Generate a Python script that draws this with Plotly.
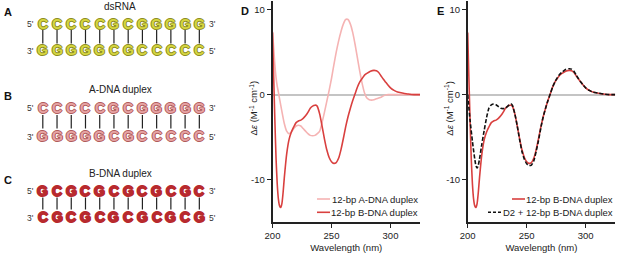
import plotly.graph_objects as go

W, H = 617, 253

# ---------------- data ----------------
seq_A_top = list("CCCCCGCGGGGG")
seq_A_bot = list("GGGGGCGCCCCC")
seq_B_top = list("CCCCCGCGGGGG")
seq_B_bot = list("GGGGGCGCCCCC")
seq_C_top = list("GCGCGCGCGCGC")
seq_C_bot = list("CGCGCGCGCGCG")

wl_b = [200, 201, 202, 203, 204, 205, 206, 207, 208, 209, 210, 212, 214, 216, 218, 220, 222, 224, 226, 228,
        230, 232, 234, 236, 237, 238, 240, 242, 244, 246, 248, 250, 252, 254, 256, 258, 260, 262, 264, 266,
        268, 270, 272, 274, 276, 278, 280, 283, 286, 288, 290, 292, 294, 296, 298, 300, 303, 306, 310, 315,
        320, 325]
bdna = [7.3, 2.0, -3.0, -7.5, -10.5, -12.3, -13.1, -13.3, -12.8, -11.5, -9.8, -7.0, -5.3, -4.4, -3.8, -3.3,
        -3.1, -3.0, -2.8, -2.5, -2.1, -1.6, -1.35, -1.25, -1.25, -1.4, -2.3, -3.7, -5.2, -6.5, -7.4, -7.9,
        -8.1, -8.0, -7.5, -6.5, -5.2, -3.8, -2.6, -1.6, -0.7, 0.1, 0.9, 1.5, 1.9, 2.3, 2.5, 2.75, 2.85, 2.8,
        2.6, 2.2, 1.8, 1.45, 1.1, 0.8, 0.5, 0.3, 0.2, 0.08, 0.0, 0.0]

wl_a = [200, 201, 202, 203, 204, 205, 206, 208, 210, 212, 214, 216, 218, 220, 222, 224, 226, 228, 230, 232,
        234, 236, 238, 240, 242, 244, 246, 248, 250, 252, 254, 256, 258, 260, 262, 264, 266, 268, 270, 272,
        274, 276, 278, 280, 282, 284, 286, 288, 290, 292, 294, 296, 298, 300, 310, 325]
adna = [7.4, 5.5, 3.5, 2.0, 1.0, 0.3, -0.5, -2.0, -3.4, -4.3, -4.6, -4.4, -4.0, -3.7, -3.6, -3.7, -4.0, -4.3,
        -4.6, -4.8, -4.85, -4.8, -4.6, -4.3, -3.3, -2.1, -0.8, 0.5, 1.9, 3.5, 5.0, 6.3, 7.4, 8.3, 8.85, 8.85,
        8.3, 7.3, 5.9, 4.3, 2.7, 1.3, 0.2, -0.4, -0.6, -0.65, -0.6, -0.5, -0.4, -0.3, -0.15, -0.05, 0.0, 0.0,
        0.0, 0.0]

wl_d2 = [200, 202, 204, 206, 207, 208, 209, 210, 212, 214, 216, 218, 220, 222, 224, 226, 228, 230, 232, 234,
         236, 237, 238, 240, 242, 244, 246, 248, 250, 252, 254, 256, 258, 260, 262, 264, 266, 268, 270, 272,
         274, 276, 278, 280, 283, 286, 288, 290, 292, 294, 296, 298, 300, 303, 306, 310, 315, 320, 325]
d2 = [0.0, -3.0, -5.5, -7.6, -8.4, -8.65, -8.3, -7.6, -5.8, -4.2, -2.7, -1.6, -1.2, -1.1, -1.2, -1.4, -1.6,
      -1.65, -1.6, -1.35, -1.15, -1.1, -1.3, -2.3, -3.7, -5.3, -6.7, -7.6, -8.15, -8.35, -8.3, -7.8, -6.7,
      -5.4, -3.9, -2.6, -1.6, -0.7, 0.1, 0.9, 1.5, 2.0, 2.4, 2.65, 2.95, 3.05, 3.0, 2.75, 2.3, 1.85, 1.45,
      1.1, 0.8, 0.5, 0.3, 0.2, 0.08, 0.0, 0.0]

x_ticks = [200, 250, 300]
y_ticks = [-10, 0, 10]

# ---------------- helpers ----------------
def px(x):
    return x / W

def py(y):
    return 1 - y / H

RED = "#d9403f"
PINK = "#f5b3b3"
AXC = "#222222"
FONT = "Liberation Sans"

fig = go.Figure()

fig.add_trace(go.Scatter(x=wl_a, y=adna, mode="lines", line=dict(color=PINK, width=1.6, shape="spline", smoothing=0.6),
                         name="12-bp A-DNA duplex", xaxis="x", yaxis="y", showlegend=False))
fig.add_trace(go.Scatter(x=wl_b, y=bdna, mode="lines", line=dict(color=RED, width=1.6, shape="spline", smoothing=0.6),
                         name="12-bp B-DNA duplex", xaxis="x", yaxis="y", showlegend=False))
fig.add_trace(go.Scatter(x=wl_b, y=bdna, mode="lines", line=dict(color=RED, width=1.6, shape="spline", smoothing=0.6),
                         name="12-bp B-DNA duplex", xaxis="x2", yaxis="y2", showlegend=False))
fig.add_trace(go.Scatter(x=wl_d2, y=d2, mode="lines",
                         line=dict(color="#111111", width=1.6, dash="4px,2px", shape="spline", smoothing=0.6),
                         name="D2 + 12-bp B-DNA duplex", xaxis="x2", yaxis="y2", showlegend=False))

ydom = [py(222), py(1.2)]
common_x = dict(range=[200, 325], tickvals=x_ticks, ticks="outside", ticklen=4, tickwidth=1.3, tickcolor=AXC,
                showline=True, linecolor=AXC, linewidth=1.5, showgrid=False, zeroline=False,
                tickfont=dict(family=FONT, size=9.5, color=AXC), automargin=False,
                title=dict(text="Wavelength (nm)", font=dict(family=FONT, size=9.5, color=AXC), standoff=6))
common_y = dict(range=[-15, 11], tickvals=y_ticks, ticktext=["-10", "0", "10"], ticks="outside", ticklen=4,
                tickwidth=1.3, tickcolor=AXC, showline=True, linecolor=AXC, linewidth=1.5, showgrid=False,
                zeroline=True, zerolinecolor="#c4c4c4", zerolinewidth=1.5, automargin=False,
                tickfont=dict(family=FONT, size=9.5, color=AXC))

fig.update_layout(
    width=W, height=H, margin=dict(l=0, r=0, t=0, b=0, autoexpand=False),
    paper_bgcolor="white", plot_bgcolor="white",
    xaxis=dict(domain=[px(272.5), px(420)], anchor="y", **common_x),
    yaxis=dict(domain=ydom, anchor="x", **common_y),
    xaxis2=dict(domain=[px(467.7), px(615.2)], anchor="y2", **common_x),
    yaxis2=dict(domain=ydom, anchor="x2", **common_y),
    showlegend=False,
)

ann = []
shapes = []


def text_at(x, y, text, size, color, xanchor="center", **kw):
    ann.append(dict(x=px(x), y=py(y), xref="paper", yref="paper", text=text, showarrow=False,
                    xanchor=xanchor, yanchor="middle", font=dict(family=FONT, size=size, color=color, **kw)))


# y-axis titles
for xc in (254, 449.2):
    ann.append(dict(x=px(xc), y=py(108.5), xref="paper", yref="paper",
                    text="Δ<i>ε</i> (M<sup>-1</sup> cm<sup>-1</sup>)", xanchor="center", yanchor="middle",
                    textangle=-90, showarrow=False, font=dict(family=FONT, size=9.5, color=AXC)))


# manual legends (text right-aligned, sample line just left of text)
def legend_item(xl0, xl1, xr, yc, text, color, dash="solid"):
    shapes.append(dict(type="line", xref="paper", yref="paper", x0=px(xl0), x1=px(xl1), y0=py(yc), y1=py(yc),
                       line=dict(color=color, width=1.6, dash=dash)))
    text_at(xr, yc, text, 9.5, AXC, xanchor="right")


legend_item(317, 330, 419.5, 199, "12-bp A-DNA duplex", PINK)
legend_item(317, 330, 419.5, 212.3, "12-bp B-DNA duplex", RED)
legend_item(512, 525, 614.5, 199, "12-bp B-DNA duplex", RED)
legend_item(488, 502, 614.5, 212.3, "D2 + 12-bp B-DNA duplex", "#111111", "3px,2px")

# panel labels
for lab, x, y in [("A", 8, 12), ("B", 8, 96), ("C", 8, 180), ("D", 245, 11), ("E", 440, 11)]:
    text_at(x, y, "<b>%s</b>" % lab, 11, "#111111")


# duplex drawings
def outline(c):
    return "-1px 0 %s, 1px 0 %s, 0 -1px %s, 0 1px %s" % (c, c, c, c)


panels = [
    ("dsRNA", seq_A_top, seq_A_bot, 6.5, 23.5, 50.5, "#d6d640", "#8c8c24"),
    ("A-DNA duplex", seq_B_top, seq_B_bot, 90, 108.5, 135.5, "#e6a3a3", "#b05c5c"),
    ("B-DNA duplex", seq_C_top, seq_C_bot, 173, 191, 216.5, "#b82a2e", "#b82a2e"),
]
x0, dx = 42.8, 14.23
for title, top, bot, ty, yt, yb, fill, edge in panels:
    text_at(120, ty, title, 10, "#222222")
    for i, (a, b) in enumerate(zip(top, bot)):
        xc = x0 + i * dx
        for ch, yc in ((a, yt), (b, yb)):
            text_at(xc, yc, "<b>%s</b>" % ch, 14, fill, shadow=outline(edge))
        shapes.append(dict(type="line", xref="paper", yref="paper", x0=px(xc), x1=px(xc),
                           y0=py(yt + 6.5), y1=py(yb - 7), line=dict(color="#222222", width=1.2)))
    for lab, x, y in [("5'", 30.5, yt), ("3'", 30.5, yb + 1), ("3'", 212, yt), ("5'", 212, yb + 1)]:
        text_at(x, y, lab, 8.5, "#333333")

fig.update_layout(annotations=ann, shapes=shapes)
fig.write_html("out.html", config={"displayModeBar": False},
               post_script="document.body.style.margin='0';document.body.style.padding='0';")
